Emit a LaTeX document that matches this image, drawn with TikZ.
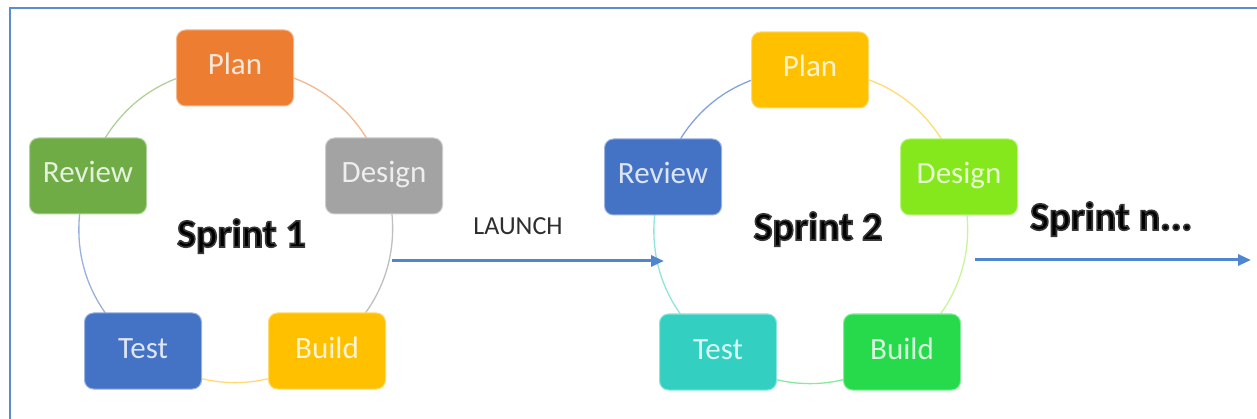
\documentclass[tikz,border=0pt]{standalone}
\usepackage{fontspec}
\setmainfont{Carlito}
\usetikzlibrary{arrows.meta,backgrounds,calc}

% phase colours
\definecolor{planA}{HTML}{ED7D31}
\definecolor{designA}{HTML}{A3A3A3}
\definecolor{buildA}{HTML}{FFC000}
\definecolor{testA}{HTML}{4472C4}
\definecolor{reviewA}{HTML}{6FAC46}
\definecolor{planB}{HTML}{FFC000}
\definecolor{designB}{HTML}{84E81C}
\definecolor{buildB}{HTML}{26DA4B}
\definecolor{testB}{HTML}{33D0C2}
\definecolor{reviewB}{HTML}{4472C4}
\definecolor{flowblue}{HTML}{4F86CF}
\definecolor{frameblue}{HTML}{5B8BD0}
\definecolor{launchgray}{HTML}{2E2E2E}

% bold title with a soft dark outline (fill + stroke text rendering)
\newcommand{\glowtext}[1]{%
  \special{pdf:literal direct 0.22 G 1.6 w 2 Tr}#1\special{pdf:literal direct 0 Tr 0 G}}

\newcommand{\phasebox}[4]{% name, position, colour, label
  \node[phase, fill=#3, draw=#3!55!white, text=white!82!#3] (#1) at #2 {#4};}

\begin{document}
\begin{tikzpicture}[x=1pt, y=-1pt,
  phase/.style={rounded corners=9pt, minimum width=117pt, minimum height=76pt,
    inner sep=0pt, line width=1pt, font=\fontsize{31}{31}\selectfont,
    text height=22pt, text depth=8pt},
  ring/.style={line width=1.3pt},
  sprint/.style={font=\fontsize{40}{40}\selectfont\bfseries, text=black, inner sep=0pt},
  flow/.style={draw=flowblue, line width=3pt, -{Triangle[length=13pt,width=11pt]}},
  frameline/.style={draw=frameblue, line width=2pt}]
\useasboundingbox (0,0) rectangle (1257,419);

% outer frame (left and top edges)
\draw[frameline] (9.5,419) -- (9.5,8.5) -- (1257,8.5);

% sprint 1 phases
\phasebox{p1}{(235,68)}{planA}{Plan}
\phasebox{d1}{(384,176)}{designA}{Design}
\phasebox{b1}{(327,351)}{buildA}{Build}
\phasebox{t1}{(143,351)}{testA}{Test}
\phasebox{r1}{(88,176)}{reviewA}{Review}

% sprint 2 phases
\phasebox{p2}{(810,70)}{planB}{Plan}
\phasebox{d2}{(959,177)}{designB}{Design}
\phasebox{b2}{(902,352)}{buildB}{Build}
\phasebox{t2}{(718,352)}{testB}{Test}
\phasebox{r2}{(663,177)}{reviewB}{Review}

% page background and cycle arcs behind the phase boxes
\begin{scope}[on background layer]
  \fill[white] (0,0) rectangle (1257,419);

  \draw[ring, draw=planA!55!white]   (p1.center) to[bend left=36] (d1.center);
  \draw[ring, draw=designA!70!white] (d1.center) to[bend left=36] (b1.center);
  \draw[ring, draw=buildA!55!white]  (b1.center) to[bend left=36] (t1.center);
  \draw[ring, draw=testA!55!white]   (t1.center) to[bend left=36] (r1.center);
  \draw[ring, draw=reviewA!55!white] (r1.center) to[bend left=36] (p1.center);

  \draw[ring, draw=planB!55!white]   (p2.center) to[bend left=36] (d2.center);
  \draw[ring, draw=designB!45!white] (d2.center) to[bend left=36] (b2.center);
  \draw[ring, draw=buildB!55!white]  (b2.center) to[bend left=36] (t2.center);
  \draw[ring, draw=testB!55!white]   (t2.center) to[bend left=36] (r2.center);
  \draw[ring, draw=reviewB!65!white] (r2.center) to[bend left=36] (p2.center);
\end{scope}

% sprint titles
\node[sprint, anchor=base] (s1) at (241.5,247) {\glowtext{Sprint 1}};
\node[sprint, anchor=base] (s2) at (818,240) {\glowtext{Sprint 2}};
\node[sprint, anchor=base west] (sn) at (1030,230) {\glowtext{Sprint n...}};

% launch arrow between sprints
\coordinate (launchstart) at (392,261);
\coordinate (launchend) at (664,261);
\draw[flow] (launchstart) -- (launchend);
\node[anchor=base, inner sep=0pt, text=launchgray, font=\fontsize{26}{26}\selectfont] (launch) at (518,235) {LAUNCH};

% onward arrow
\coordinate (nextstart) at (975,260);
\coordinate (nextend) at (1251,260);
\draw[flow] (nextstart) -- (nextend);
\end{tikzpicture}
\end{document}
